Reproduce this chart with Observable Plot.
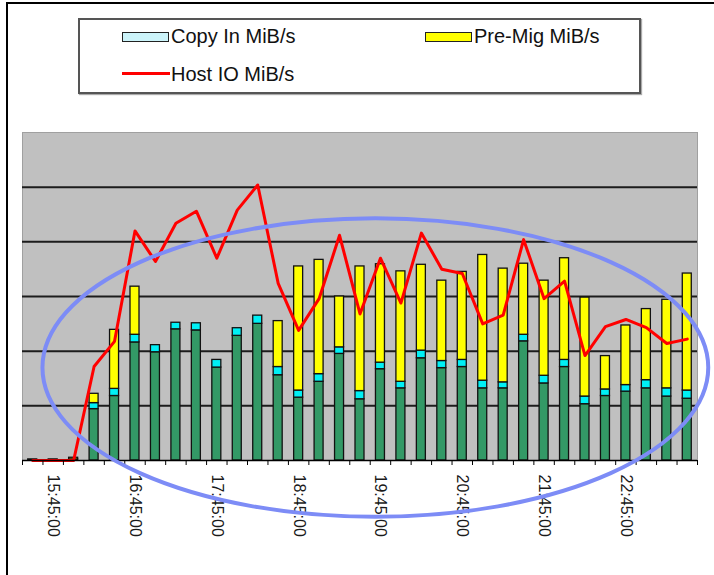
<!DOCTYPE html>
<html>
<head>
<meta charset="utf-8">
<script src="https://cdn.jsdelivr.net/npm/d3@7"></script>
<script src="https://cdn.jsdelivr.net/npm/@observablehq/plot@0.6"></script>
<style>
  body { margin: 0; background: #fff; font-family: "Liberation Sans", Arial, sans-serif; }
  #page { position: relative; width: 714px; height: 575px; overflow: hidden; background: #fff; }
  #frameTop { position: absolute; left: 6px; top: 2px; width: 710px; border-top: 2px solid #000; }
  #frameLeft { position: absolute; left: 6px; top: 2px; height: 580px; border-left: 2px solid #000; }
  #legend { position: relative; width: 714px; height: 120px; }
  #legend .box { position: absolute; left: 78px; top: 18px; width: 559px; height: 72px; border: 2px solid #555; box-shadow: 1px 1px 1px #aaa; }
  #legend .sw { position: absolute; width: 45px; height: 8px; border: 1.5px solid #222; }
  #legend .ln { position: absolute; width: 48px; height: 3px; background: #FF0000; }
  #legend .lab { position: absolute; font-size: 20px; color: #111; line-height: 22px; white-space: nowrap; }
  #chart { position: absolute; left: 0; top: 120px; }
</style>
</head>
<body>
<div id="page">
  <div id="legend"></div>
  <div id="chart"></div>
  <div id="frameTop"></div>
  <div id="frameLeft"></div>
</div>
<script>
// ---- data ----
const times = [
  "15:30:00","15:45:00","16:00:00","16:15:00","16:30:00","16:45:00","17:00:00","17:15:00",
  "17:30:00","17:45:00","18:00:00","18:15:00","18:30:00","18:45:00","19:00:00","19:15:00",
  "19:30:00","19:45:00","20:00:00","20:15:00","20:30:00","20:45:00","21:00:00","21:15:00",
  "21:30:00","21:45:00","22:00:00","22:15:00","22:30:00","22:45:00","23:00:00","23:15:00",
  "23:30:00"
];
const labelTimes = ["15:45:00","16:45:00","17:45:00","18:45:00","19:45:00","20:45:00","21:45:00","22:45:00"];

const otherMiB = [1, 1, 1, 47, 59, 108, 99, 120, 119, 85, 114, 125, 78, 57.5, 72, 97.5, 56,
  83.5, 66, 93.5, 84.5, 85.5, 66, 66, 109, 70.5, 85.5, 51.5, 59, 63, 66, 58.5, 56.5];
const copyIn = [0, 0, 0, 5.5, 6.5, 7, 6.5, 6, 6.5, 7, 7, 7.5, 7.5, 6.5, 7, 6, 7.5,
  6, 6, 7, 6.5, 6.5, 7, 5.5, 6, 7, 6.5, 7, 6, 6, 7.5, 7.5, 7.5];
const preMig = [0, 0, 1.5, 8.5, 54, 44, 0, 0, 0, 0, 0, 0, 42, 113.5, 104.5, 46.5, 114,
  90, 101, 78.5, 73.5, 80.5, 115, 104, 65, 87, 93, 90.5, 30.5, 54.5, 65, 81, 107];
const hostIO = [0, 0, 0, 86, 109, 210, 182, 217, 228, 185, 229, 252, 162, 119, 148, 206, 134,
  185, 144, 208, 175, 171, 125, 133, 202, 148, 164, 96, 122.5, 129, 121.5, 107, 111];

const seriesNames = ["Other MiB/s", "Copy In MiB/s", "Pre-Mig MiB/s"];
const seriesColors = ["#339966", "#00F0F5", "#FFFF00"];
const gridValues = [50, 100, 150, 200, 250];
const legendItems = [
  {label: "Copy In MiB/s", kind: "box", color: "#CCF4FA"},
  {label: "Pre-Mig MiB/s", kind: "box", color: "#FFFF00"},
  {label: "Host IO MiB/s", kind: "line", color: "#FF0000"}
];
// highlight ellipse annotation (category index range and value range)
const highlight = {fromIndex: 0.5, toIndex: 33.05, topValue: 221, bottomValue: -52};

// ---- legend ----
const legend = document.getElementById("legend");
legend.innerHTML = '<div class="box"></div>';
const legendPos = [[122, 32], [425, 32], [122, 70]];
legendItems.forEach((it, i) => {
  const [lx, ly] = legendPos[i];
  const mk = document.createElement("div");
  if (it.kind === "box") {
    mk.className = "sw";
    mk.style.left = lx + "px"; mk.style.top = ly + "px"; mk.style.background = it.color;
  } else {
    mk.className = "ln";
    mk.style.left = lx + "px"; mk.style.top = (ly + 2) + "px"; mk.style.background = it.color;
  }
  legend.appendChild(mk);
  const t = document.createElement("div");
  t.className = "lab";
  t.textContent = it.label;
  t.style.left = (lx + 49) + "px";
  t.style.top = (ly - 7) + "px";
  legend.appendChild(t);
});

// ---- chart ----
const rows = times.flatMap((t, i) => [
  {time: t, series: seriesNames[0], value: otherMiB[i]},
  {time: t, series: seriesNames[1], value: copyIn[i]},
  {time: t, series: seriesNames[2], value: preMig[i]}
]);
const lineData = times.map((t, i) => ({time: t, value: hostIO[i]}));

const W = 714, H = 455, mL = 22, mR = 17, mT = 12, mB = 115;
const step = (W - mL - mR) / times.length;

const chart = Plot.plot({
  width: W, height: H,
  marginLeft: mL, marginRight: mR, marginTop: mT, marginBottom: mB,
  style: {background: "transparent", fontFamily: "Liberation Sans, Arial, sans-serif"},
  x: {domain: times, paddingInner: 0.56, paddingOuter: 0.28, round: false, axis: null, label: null},
  y: {domain: [0, 300], axis: null, label: null},
  color: {domain: seriesNames, range: seriesColors},
  marks: [
    Plot.frame({fill: "#C0C0C0", stroke: "#a0a0a0"}),
    Plot.ruleY(gridValues, {stroke: "#1c1c1c", strokeWidth: 2}),
    Plot.barY(rows, {x: "time", y: "value", fill: "series", stroke: "#111", strokeWidth: 1.3}),
    Plot.line(lineData, {x: "time", y: "value", stroke: "#FF0000", strokeWidth: 3}),
    Plot.ruleY([0], {stroke: "#000", strokeWidth: 1.5}),
    Plot.axisX(times, {tickSize: 5, tickFormat: () => "", dx: -step / 2, stroke: "#000", label: null}),
    Plot.axisX([times[times.length - 1]], {tickSize: 5, tickFormat: () => "", dx: step / 2, stroke: "#000", label: null}),
    Plot.axisX(labelTimes, {tickSize: 0, tickPadding: 14, tickRotate: 90, fontSize: 16, fill: "#1a1a1a", label: null})
  ]
});
document.getElementById("chart").appendChild(chart);

// ellipse annotation placed through the chart's scales
const xs = chart.scale("x"), ys = chart.scale("y");
const c0 = xs.apply(times[0]) + xs.bandwidth / 2;
const stepPx = xs.apply(times[1]) - xs.apply(times[0]);
const ex1 = c0 + highlight.fromIndex * stepPx, ex2 = c0 + highlight.toIndex * stepPx;
const ey1 = ys.apply(highlight.topValue), ey2 = ys.apply(highlight.bottomValue);
d3.select(chart).append("ellipse")
  .attr("cx", (ex1 + ex2) / 2).attr("cy", (ey1 + ey2) / 2)
  .attr("rx", (ex2 - ex1) / 2).attr("ry", (ey2 - ey1) / 2)
  .attr("fill", "none").attr("stroke", "#7d8cf6").attr("stroke-width", 4);
</script>
</body>
</html>
